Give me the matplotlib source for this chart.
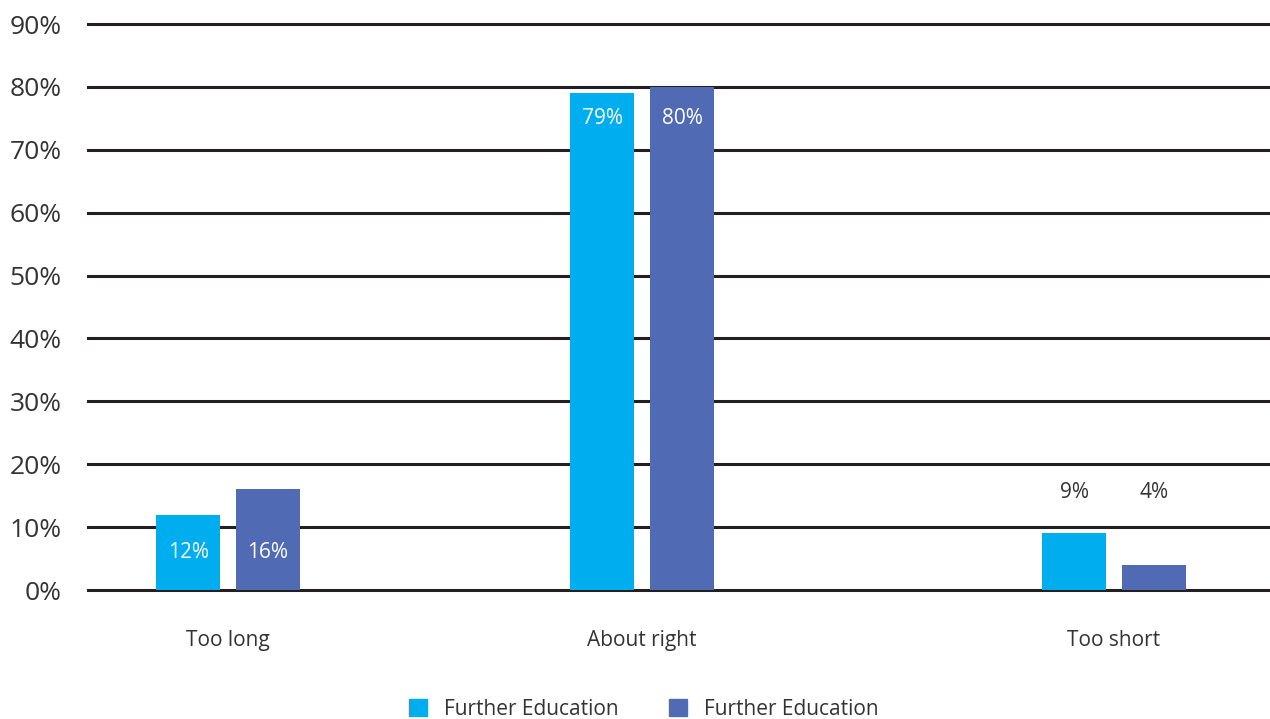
import matplotlib.pyplot as plt
from matplotlib.patches import Patch

# Data
categories = ['Too long', 'About right', 'Too short']
series_a = [12, 79, 9]
series_b = [16, 80, 4]
series_names = ['Further Education', 'Further Education']
y_ticks = [0, 10, 20, 30, 40, 50, 60, 70, 80, 90]

# Layout / style
group_x = [0, 0.935, 2]
bar_w = 0.145
offset = 0.09
cyan = '#00AEEF'
blue = '#506BB4'
text_col = '#333333'
line_col = '#231F20'

plt.rcParams['font.family'] = ['Open Sans', 'DejaVu Sans']

fig = plt.figure(figsize=(12.7, 7.19), dpi=100)
ax = fig.add_axes([88 / 1270, 1 - 590 / 719, 1 - 88 / 1270, (590 - 24) / 719])

xa = [x - offset for x in group_x]
xb = [x + offset for x in group_x]
ax.bar(xa, series_a, width=bar_w, color=cyan, zorder=3)
ax.bar(xb, series_b, width=bar_w, color=blue, zorder=3)

for t in y_ticks:
    ax.axhline(t, color=line_col, lw=2.2, zorder=2, clip_on=False)

# value labels
label_y = [6, 75, 15.5]
inside = [True, True, False]
for i in range(len(categories)):
    col = 'white' if inside[i] else text_col
    ax.text(xa[i], label_y[i], f'{series_a[i]}%', ha='center', va='center',
            color=col, fontsize=15, zorder=4)
    ax.text(xb[i], label_y[i], f'{series_b[i]}%', ha='center', va='center',
            color=col, fontsize=15, zorder=4)

ax.set_xlim(-0.316, 2.352)
ax.set_ylim(0, 90)
ax.set_yticks(y_ticks)
ax.set_yticklabels([f'{t}%' for t in y_ticks], fontsize=19, color=text_col)
ax.set_xticks(group_x)
ax.set_xticklabels(categories, fontsize=15, color=text_col)
ax.tick_params(axis='y', length=0, pad=19)
ax.tick_params(axis='x', length=0, pad=29)
for s in ax.spines.values():
    s.set_visible(False)

handles = [Patch(color=cyan), Patch(color=blue)]
fig.legend(handles, series_names, loc='lower center', bbox_to_anchor=(0.507, -0.027),
           ncol=2, frameon=False, fontsize=15, handlelength=0.85, handleheight=0.85,
           handletextpad=0.85, columnspacing=2.4, labelcolor=text_col)

fig.savefig('out.png', dpi=100)
